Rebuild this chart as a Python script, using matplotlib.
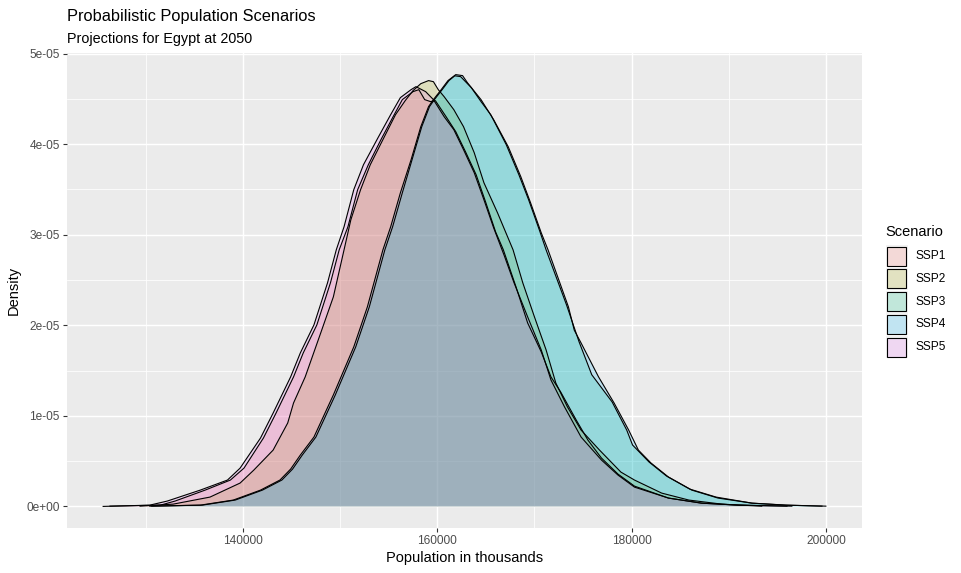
import matplotlib
matplotlib.use("Agg")
import matplotlib.pyplot as plt
from matplotlib.patches import Rectangle

plt.rcParams['font.family'] = ['Liberation Sans', 'DejaVu Sans']

# ---------------- data ----------------
scenarios = ["SSP1", "SSP2", "SSP3", "SSP4", "SSP5"]
colors = ["#F8766D", "#A3A500", "#00BF7D", "#00B0F6", "#E76BF3"]

x_ssp1 = [126300, 131500, 133000, 136100, 138700, 140100, 142100, 143400, 145200, 146200,
          147600, 149000, 149900, 150800, 151800, 152900, 154200, 155400, 156400, 157500,
          158100, 158700, 159300, 159800, 160900, 161900, 162900, 164000, 165000, 166000,
          166800, 168100, 169300, 170700, 171700, 172700, 174300, 175500, 176900, 178600,
          180300, 183800, 187200, 191000, 196000]
d_ssp1 = [0.003, 0.014, 0.059, 0.180, 0.291, 0.423, 0.755, 1.031, 1.430, 1.695,
          2.004, 2.469, 2.833, 3.088, 3.497, 3.773, 4.050, 4.293, 4.492, 4.580,
          4.602, 4.492, 4.470, 4.481, 4.304, 4.138, 3.917, 3.662, 3.353, 3.032,
          2.833, 2.425, 2.026, 1.706, 1.430, 1.264, 0.954, 0.733, 0.534, 0.357,
          0.224, 0.092, 0.036, 0.014, 0.003]

x_ssp2 = [129400, 132800, 136600, 139700, 141100, 143100, 144600, 145200, 146400, 148000,
          149300, 150400, 151100, 152100, 153100, 154400, 155700, 156700, 157500, 158300,
          159100, 159600, 160100, 160700, 161700, 162700, 163800, 164800, 166200, 167800,
          168800, 170000, 171200, 172200, 173400, 174800, 176700, 178900, 180300, 183100,
          185900, 189300, 193400]
d_ssp2 = [0.003, 0.025, 0.103, 0.258, 0.400, 0.622, 0.921, 1.142, 1.430, 1.916,
          2.314, 2.833, 3.165, 3.497, 3.773, 4.050, 4.326, 4.481, 4.591, 4.668,
          4.702, 4.690, 4.602, 4.525, 4.381, 4.193, 3.906, 3.574, 3.242, 2.833,
          2.469, 2.093, 1.728, 1.363, 1.098, 0.843, 0.622, 0.379, 0.291, 0.147,
          0.070, 0.025, 0.003]

x_ssp3 = [130600, 135800, 139200, 142000, 144000, 145100, 146100, 147500, 149500, 151600,
          153000, 154600, 155400, 156400, 157400, 158400, 159200, 159700, 160500, 161200,
          161800, 162400, 163500, 164500, 165500, 167100, 168400, 169400, 170500, 171200,
          173300, 174600, 175900, 178000, 179500, 180100, 181800, 183600, 186000, 188700,
          192400, 196000, 199600]
d_ssp3 = [0.003, 0.014, 0.070, 0.180, 0.291, 0.412, 0.567, 0.766, 1.231, 1.761,
          2.203, 2.833, 3.088, 3.463, 3.828, 4.193, 4.415, 4.492, 4.602, 4.702,
          4.755, 4.746, 4.624, 4.470, 4.326, 3.994, 3.662, 3.386, 3.054, 2.833,
          2.226, 1.816, 1.454, 1.153, 0.843, 0.678, 0.490, 0.335, 0.191, 0.103,
          0.036, 0.014, 0.003]

x_ssp4 = [130400, 135600, 139000, 141800, 143800, 144900, 145900, 147300, 149300, 151400,
          152800, 154400, 155200, 156200, 157300, 158300, 159100, 159600, 160400, 161100,
          161900, 162600, 163100, 164500, 165800, 167300, 168600, 169600, 170700, 171400,
          173500, 174100, 174800, 176600, 178200, 179700, 180700, 182000, 183800, 186200,
          188900, 192400, 195800, 200000]
d_ssp4 = [0.003, 0.014, 0.070, 0.180, 0.291, 0.412, 0.567, 0.766, 1.231, 1.761,
          2.203, 2.833, 3.088, 3.463, 3.828, 4.193, 4.415, 4.492, 4.602, 4.702,
          4.768, 4.757, 4.679, 4.492, 4.271, 3.972, 3.640, 3.353, 3.021, 2.833,
          2.203, 1.946, 1.805, 1.430, 1.142, 0.843, 0.622, 0.479, 0.324, 0.180,
          0.092, 0.036, 0.014, 0.003]

x_ssp5 = [125600, 130400, 132200, 135600, 138400, 139700, 141800, 143100, 144900, 145900,
          147300, 148700, 149600, 150400, 151400, 152400, 153900, 155200, 156200, 157300,
          157800, 158800, 159600, 160700, 161700, 162700, 163800, 164800, 165800, 166900,
          167900, 169300, 170700, 171700, 173100, 174800, 176900, 178600, 180300, 183800,
          187200, 191000, 196500]
d_ssp5 = [0.000, 0.014, 0.059, 0.180, 0.291, 0.423, 0.755, 1.031, 1.430, 1.695,
          2.004, 2.469, 2.833, 3.088, 3.497, 3.773, 4.072, 4.326, 4.514, 4.602,
          4.635, 4.580, 4.492, 4.304, 4.160, 3.939, 3.685, 3.386, 3.076, 2.767,
          2.469, 2.093, 1.728, 1.396, 1.098, 0.766, 0.512, 0.346, 0.213, 0.092,
          0.036, 0.014, 0.003]

density_scale = 1e-5  # densities above are in units of 1e-05

x_ticks = [140000, 160000, 180000, 200000]
x_tick_labels = ["140000", "160000", "180000", "200000"]
x_minor = [130000, 150000, 170000, 190000]
y_ticks = [0, 1e-5, 2e-5, 3e-5, 4e-5, 5e-5]
y_tick_labels = ["0e+00", "1e-05", "2e-05", "3e-05", "4e-05", "5e-05"]
y_minor = [0.5e-5, 1.5e-5, 2.5e-5, 3.5e-5, 4.5e-5]

title = "Probabilistic Population Scenarios"
subtitle = "Projections for Egypt at 2050"
x_label = "Population in thousands"
y_label = "Density"
legend_title = "Scenario"

series_x = [x_ssp1, x_ssp2, x_ssp3, x_ssp4, x_ssp5]
series_d = [d_ssp1, d_ssp2, d_ssp3, d_ssp4, d_ssp5]

# ---------------- figure ----------------
W, H = 961, 573
fig = plt.figure(figsize=(W / 100, H / 100), dpi=100)
fig.patch.set_facecolor("white")

pl, pr, pt, pb = 67, 862, 52.7, 528
ax = fig.add_axes([pl / W, 1 - pb / H, (pr - pl) / W, (pb - pt) / H])
ax.set_facecolor("#EBEBEB")
for s in ax.spines.values():
    s.set_visible(False)

ax.set_xticks(x_ticks)
ax.set_xticklabels(x_tick_labels)
ax.set_xticks(x_minor, minor=True)
ax.set_yticks(y_ticks)
ax.set_yticklabels(y_tick_labels)
ax.set_yticks(y_minor, minor=True)
ax.grid(which="major", color="white", linewidth=1.05)
ax.grid(which="minor", color="white", linewidth=0.55)
ax.set_axisbelow(True)
ax.tick_params(which="major", length=3.2, width=0.8, color="#333333",
               labelcolor="#4D4D4D", labelsize=8.6, pad=2.0)
ax.tick_params(which="minor", length=0)

for xs, ds, c in zip(series_x, series_d, colors):
    dd = [v * density_scale for v in ds]
    ax.fill_between(xs, 0, dd, facecolor=c, alpha=0.2, linewidth=0)
    ax.plot(xs, dd, color="black", linewidth=0.8)

ax.set_xlim(121880, 203720)
ax.set_ylim(-0.2384e-5, 5.01e-5)

ax.set_xlabel(x_label, fontsize=10.5, color="black", labelpad=2.5)
ax.set_ylabel(y_label, fontsize=10.5, color="black", labelpad=4)

fig.text(pl / W, 1 - 21 / H, title, fontsize=11.8, va="baseline", ha="left")
fig.text(pl / W, 1 - 43 / H, subtitle, fontsize=10.4, va="baseline", ha="left")

# legend
fig.text(885 / W, 1 - 236 / H, legend_title, fontsize=10.5, va="baseline", ha="left")
key_w, key_h = 22, 22
key_top0 = 245
step = 22.8
for i, (name, c) in enumerate(zip(scenarios, colors)):
    top = key_top0 + i * step
    x0 = 885.5 / W
    y0 = 1 - (top + key_h) / H
    fig.add_artist(Rectangle((x0, y0), key_w / W, key_h / H, transform=fig.transFigure,
                             facecolor="#F2F2F2", edgecolor="none"))
    fig.add_artist(Rectangle((x0 + 1.5 / W, y0 + 1.5 / H), (key_w - 3) / W, (key_h - 3) / H,
                             transform=fig.transFigure, facecolor=c, alpha=0.2,
                             edgecolor="none"))
    fig.add_artist(Rectangle((x0 + 1.5 / W, y0 + 1.5 / H), (key_w - 3) / W, (key_h - 3) / H,
                             transform=fig.transFigure, facecolor="none",
                             edgecolor="black", linewidth=0.8))
    fig.text(915 / W, 1 - (top + key_h / 2) / H, name, fontsize=8.6, va="center",
             ha="left", color="black")

fig.savefig("out.png", dpi=100)
